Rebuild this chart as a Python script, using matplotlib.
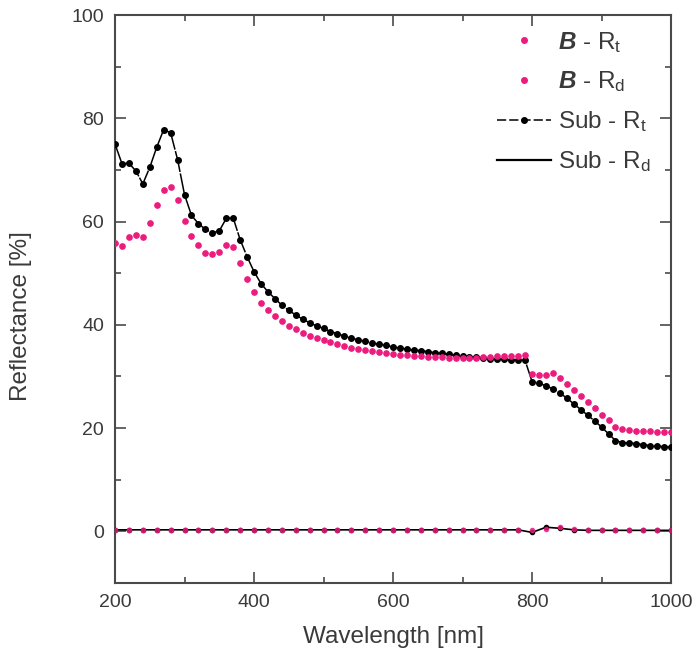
import numpy as np
import matplotlib
matplotlib.use('Agg')
import matplotlib.pyplot as plt
from matplotlib.lines import Line2D
from matplotlib.ticker import MultipleLocator

plt.rcParams['font.family'] = ['Liberation Sans', 'DejaVu Sans']
plt.rcParams['mathtext.fontset'] = 'custom'
plt.rcParams['mathtext.rm'] = 'Liberation Sans'
plt.rcParams['mathtext.it'] = 'Liberation Sans:italic'
plt.rcParams['mathtext.bf'] = 'Liberation Sans:bold'
plt.rcParams['mathtext.bfit'] = 'Liberation Sans:bold:italic'

# wavelengths (nm) for the main curves, 10 nm step
wl = np.arange(200, 1001, 10)

# substrate total reflectance (black dots)
sub_rt = [75.0, 71.2, 71.3, 69.8, 67.3, 70.5, 74.4, 77.8, 77.2, 72.0,
          65.2, 61.2, 59.6, 58.5, 57.8, 58.2, 60.6, 60.7, 56.5, 53.2,
          50.3, 48.0, 46.4, 45.1, 43.8, 42.8, 41.9, 41.1, 40.4, 39.8,
          39.3, 38.7, 38.3, 37.8, 37.4, 37.1, 36.8, 36.5, 36.2, 36.0,
          35.7, 35.5, 35.3, 35.1, 35.0, 34.8, 34.6, 34.5, 34.3, 34.1,
          34.0, 33.8, 33.7, 33.5, 33.4, 33.3, 33.3, 33.2, 33.2, 33.1,
          29.0, 28.7, 28.2, 27.6, 26.8, 25.8, 24.7, 23.6, 22.5, 21.4,
          20.2, 18.9, 17.6, 17.2, 17.1, 17.0, 16.8, 16.6, 16.5, 16.4,
          16.3]

# sample B total reflectance (pink dots)
b_rt = [55.8, 55.3, 57.0, 57.4, 57.0, 59.8, 63.2, 66.1, 66.6, 64.1,
        60.1, 57.3, 55.5, 54.0, 53.7, 54.2, 55.5, 55.0, 51.9, 48.9,
        46.3, 44.3, 42.8, 41.7, 40.7, 39.8, 39.1, 38.5, 37.9, 37.4,
        37.0, 36.6, 36.2, 35.9, 35.6, 35.3, 35.1, 34.9, 34.7, 34.5,
        34.3, 34.2, 34.1, 34.0, 33.9, 33.8, 33.7, 33.7, 33.6, 33.6,
        33.6, 33.6, 33.6, 33.7, 33.8, 33.9, 34.0, 34.0, 34.0, 34.1,
        30.5, 30.2, 30.3, 30.6, 29.8, 28.6, 27.4, 26.2, 25.0, 23.8,
        22.6, 21.5, 20.2, 19.8, 19.6, 19.5, 19.4, 19.4, 19.3, 19.3,
        19.3]

# diffuse reflectance, 20 nm step
wl_d = np.arange(200, 1001, 20)
sub_rd = [0.3] * 30 + [-0.2, 0.8, 0.6, 0.3] + [0.2] * 7
b_rd = [0.3] * 31 + [0.5, 0.9, 0.4] + [0.3] * 7

pink = '#ec1c7e'
grey = '#4a4a4a'
txt = '#3a3a3a'

fig = plt.figure(figsize=(6.98, 6.59), dpi=100)
ax = fig.add_axes([0.1648, 0.1153, 0.7966, 0.8619])

ax.plot(wl_d, sub_rd, color='black', lw=1.2, marker='o', ms=3, zorder=3)
ax.plot(wl_d, b_rd, color=pink, lw=0, marker='o', ms=3, alpha=0.8, zorder=4)
ax.plot(wl, sub_rt, color='black', lw=1.1, ls=(0, (14, 1)), marker='o', ms=4, zorder=3)
ax.plot(wl, b_rt, color=pink, lw=0, marker='o', ms=3.8, zorder=4)

ax.set_xlim(200, 1000)
ax.set_ylim(-10, 100)
ax.xaxis.set_major_locator(MultipleLocator(200))
ax.xaxis.set_minor_locator(MultipleLocator(100))
ax.yaxis.set_minor_locator(MultipleLocator(10))
ax.set_yticks([0, 20, 40, 60, 80, 100])
ax.tick_params(which='both', direction='in', top=True, right=True,
               colors=grey, labelcolor=txt, labelsize=14, width=1.2)
ax.tick_params(which='major', length=8, pad=8)
ax.tick_params(which='minor', length=4)
for s in ax.spines.values():
    s.set_color(grey)
    s.set_linewidth(1.5)

ax.set_xlabel('Wavelength [nm]', fontsize=17.5, color=txt)
ax.set_ylabel('Reflectance [%]', fontsize=17.5, color=txt)
ax.xaxis.set_label_coords(0.5, -0.075)
ax.yaxis.set_label_coords(-0.15, 0.47)

handles = [
    Line2D([], [], color=pink, lw=0, marker='o', ms=4),
    Line2D([], [], color=pink, lw=0, marker='o', ms=4),
    Line2D([], [], color='black', lw=1.1, ls=(0, (6, 2)), marker='o', ms=4),
    Line2D([], [], color='black', lw=1.6),
]
labels = [r'$\mathbfit{B}$ - R$_\mathrm{t}$', r'$\mathbfit{B}$ - R$_\mathrm{d}$',
          r'Sub - R$_\mathrm{t}$', r'Sub - R$_\mathrm{d}$']
ax.legend(handles, labels, loc='upper right', frameon=False, fontsize=17.5,
          handlelength=2.2, handletextpad=0.3, labelspacing=0.62,
          borderaxespad=0.2, bbox_to_anchor=(0.99, 1.0), labelcolor=txt)

fig.savefig('out.png', dpi=100)
